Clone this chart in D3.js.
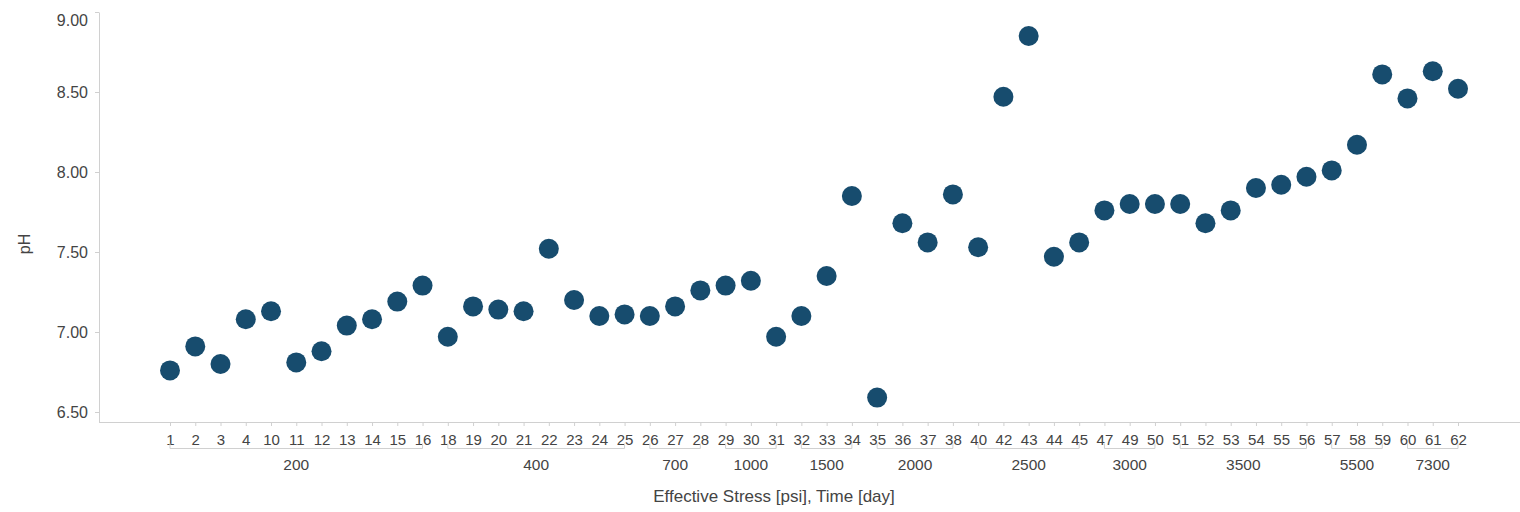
<!DOCTYPE html>
<html>
<head>
<meta charset="utf-8">
<script src="https://cdn.jsdelivr.net/npm/d3@7"></script>
<style>
  html, body { margin: 0; padding: 0; background: #fff; }
  svg { display: block; font-family: "Liberation Sans", Arial, sans-serif; }
</style>
</head>
<body>
<svg id="chart" width="1520" height="512"></svg>
<script>
// Sample numbers along the x axis
const categories = ["1","2","3","4","10","11","12","13","14","15","16","18","19","20","21","22","23","24","25","26","27","28","29","30","31","32","33","34","35","36","37","38","40","42","43","44","45","47","49","50","51","52","53","54","55","56","57","58","59","60","61","62"];

// Effective stress [psi] for each sample
const stressValues = [
  "200","200","200","200","200","200","200","200","200","200","200",
  "400","400","400","400","400","400","400","400",
  "700","700","700",
  "1000","1000","1000",
  "1500","1500","1500",
  "2000","2000","2000","2000",
  "2500","2500","2500","2500","2500",
  "3000","3000","3000",
  "3500","3500","3500","3500","3500","3500",
  "5500","5500","5500",
  "7300","7300","7300"
];

// Measured pH for each sample
const phValues = [
  6.76, 6.91, 6.80, 7.08, 7.13, 6.81, 6.88, 7.04, 7.08, 7.19, 7.29,
  6.97, 7.16, 7.14, 7.13, 7.52, 7.20, 7.10, 7.11,
  7.10, 7.16, 7.26,
  7.29, 7.32, 6.97,
  7.10, 7.35, 7.85,
  6.59, 7.68, 7.56, 7.86,
  7.53, 8.47, 8.85, 7.47, 7.56,
  7.76, 7.80, 7.80,
  7.80, 7.68, 7.76, 7.90, 7.92, 7.97,
  8.01, 8.17, 8.61,
  8.46, 8.63, 8.52
];

const yTicks = [6.5, 7.0, 7.5, 8.0, 8.5, 9.0];

const rows = categories.map((c, i) => ({ cat: c, stress: stressValues[i], ph: phValues[i] }));

const svg = d3.select("#chart");
const plotLeft = 99, plotRight = 1520, plotTop = 12, plotBottom = 422;
const textColor = "#444";
const lineColor = "#d0d0d0";
const font = "Liberation Sans, Arial, sans-serif";

const x = d3.scalePoint().domain(categories).range([170, 1458]);
const y = d3.scaleLinear().domain([6.4375, 9.0]).range([plotBottom, plotTop]);

// Y axis
const yAxis = svg.append("g")
  .attr("transform", `translate(${plotLeft},0)`)
  .call(d3.axisLeft(y).tickValues(yTicks).tickFormat(d3.format(".2f")).tickSize(4).tickPadding(7).tickSizeOuter(0));
yAxis.select(".domain").attr("stroke", lineColor);
yAxis.selectAll(".tick line").attr("stroke", lineColor);
yAxis.selectAll(".tick text")
  .attr("fill", textColor).attr("font-size", 16)
  .attr("font-family", font)
  .attr("dy", d => d === 9.0 ? "0.85em" : "0.32em");

// X axis (sample numbers)
const xAxis = svg.append("g")
  .attr("transform", `translate(0,${plotBottom})`)
  .call(d3.axisBottom(x).tickSize(4).tickPadding(8).tickSizeOuter(0));
xAxis.select(".domain").attr("d", `M${plotLeft},0.5H${plotRight}`).attr("stroke", lineColor);
xAxis.selectAll(".tick line").attr("stroke", lineColor);
xAxis.selectAll(".tick text")
  .attr("fill", textColor).attr("font-size", 15)
  .attr("font-family", font);

// Stress groups: bracket under the sample labels and group label
const groups = d3.groups(rows, d => d.stress).map(([stress, items]) => ({
  stress,
  x0: x(items[0].cat),
  x1: x(items[items.length - 1].cat)
}));
const bracketY = 448.5;
const g = svg.append("g").attr("class", "groups");
g.selectAll("path.bracket").data(groups).join("path")
  .attr("class", "bracket")
  .attr("fill", "none").attr("stroke", lineColor).attr("stroke-width", 1)
  .attr("d", d => `M${d.x0},${bracketY - 5}V${bracketY}H${d.x1}V${bracketY - 5}`);
g.selectAll("text").data(groups).join("text")
  .attr("x", d => (d.x0 + d.x1) / 2)
  .attr("y", 470)
  .attr("text-anchor", "middle")
  .attr("font-size", 15.5).attr("fill", textColor)
  .text(d => d.stress);

// Axis titles
svg.append("text")
  .attr("x", 774).attr("y", 502)
  .attr("text-anchor", "middle")
  .attr("font-size", 17).attr("fill", textColor)
  .text("Effective Stress [psi], Time [day]");
svg.append("text")
  .attr("transform", "translate(30,244) rotate(-90)")
  .attr("text-anchor", "middle")
  .attr("font-size", 16).attr("fill", textColor)
  .text("pH");

// Points
svg.append("g").selectAll("circle").data(rows).join("circle")
  .attr("cx", d => x(d.cat))
  .attr("cy", d => y(d.ph))
  .attr("r", 10)
  .attr("fill", "#174c6e");
</script>
</body>
</html>
